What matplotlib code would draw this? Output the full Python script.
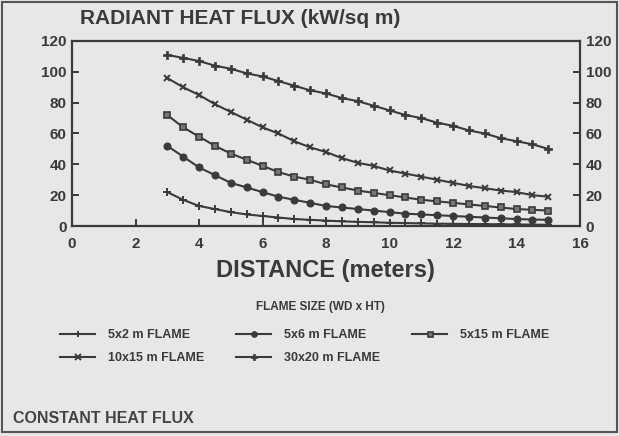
import matplotlib
matplotlib.use('Agg')
import matplotlib.pyplot as plt
from matplotlib.lines import Line2D
from matplotlib.patches import Rectangle
import numpy as np

plt.rcParams['font.family'] = ['Liberation Sans', 'DejaVu Sans']
plt.rcParams['font.weight'] = 'bold'

# distance from flame (m), every half metre from 3 to 15
distance = [3, 3.5, 4, 4.5, 5, 5.5, 6, 6.5, 7, 7.5, 8, 8.5, 9, 9.5,
            10, 10.5, 11, 11.5, 12, 12.5, 13, 13.5, 14, 14.5, 15]

flux_5x2 = [22, 17, 13, 11, 9, 7.5, 6.5, 5.5, 4.5, 4, 3.5, 3, 2.7, 2.4,
            2.1, 1.9, 1.7, 1.5, 1.4, 1.3, 1.2, 1.1, 1.0, 0.9, 0.8]
flux_5x6 = [52, 45, 38, 33, 28, 25, 22, 19, 17, 15, 13, 12, 11, 10,
            9, 8, 7.5, 7, 6.5, 6, 5.5, 5, 4.5, 4.2, 4]
flux_5x15 = [72, 64, 58, 52, 47, 43, 39, 35, 32, 30, 27, 25, 23, 21.5,
             20, 18.5, 17, 16, 15, 14, 13, 12, 11, 10.5, 10]
flux_10x15 = [96, 90, 85, 79, 74, 69, 64, 60, 55, 51, 48, 44, 41, 39,
              36, 34, 32, 30, 28, 26, 24.5, 23, 22, 20, 19]
flux_30x20 = [111, 109, 107, 104, 102, 99, 97, 94, 91, 88, 86, 83, 81, 78,
              75, 72, 70, 67, 65, 62, 60, 57, 55, 53, 50]

labels = ['5x2 m FLAME', '5x6 m FLAME', '5x15 m FLAME',
          '10x15 m FLAME', '30x20 m FLAME']

ink = '#3a3a3a'
bg = '#e7e7e5'

fig = plt.figure(figsize=(6.19, 4.36), dpi=100, facecolor=bg)
ax = fig.add_axes([72 / 619, 1 - 226 / 436, (580 - 72) / 619, (226 - 41) / 436])
ax.set_facecolor(bg)

styles = [
    dict(marker='+', ms=6, mew=1.4),
    dict(marker='o', ms=5, mfc=ink, mew=0.8),
    dict(marker='s', ms=4.5, mfc='#777777', mew=1.2),
    dict(marker='x', ms=5, mew=1.4),
    dict(marker='P', ms=5.5, mfc=ink, mew=0.5),
]
series = [flux_5x2, flux_5x6, flux_5x15, flux_10x15, flux_30x20]
for vals, st in zip(series, styles):
    ax.plot(distance, vals, color=ink, lw=1.5, mec=ink, **st)

ax.set_xlim(0, 16)
ax.set_ylim(0, 120)
ax.set_xticks(np.arange(0, 17, 2))
ax.set_yticks(np.arange(0, 121, 20))
ax.tick_params(direction='in', length=5, width=1.4, colors=ink,
               labelsize=11, pad=4, right=True, labelright=True)
ax.tick_params(axis='x', pad=8)
for lab in ax.get_xticklabels() + ax.get_yticklabels():
    lab.set_fontweight('bold')
for sp in ax.spines.values():
    sp.set_color(ink)
    sp.set_linewidth(1.6)

fig.text(80 / 619, 1 - 19 / 436, 'RADIANT HEAT FLUX (kW/sq m)', fontsize=15,
         fontweight='bold', color=ink, va='center', ha='left')
fig.text(325 / 619, 1 - 270 / 436, 'DISTANCE (meters)', fontsize=17,
         fontweight='bold', color=ink, va='center', ha='center')
fig.text(13 / 619, 1 - 418 / 436, 'CONSTANT HEAT FLUX', fontsize=11.5,
         fontweight='bold', color='#444444', va='center', ha='left')
fig.text(320 / 619, 1 - 307 / 436, 'FLAME SIZE (WD x HT)', fontsize=8.5,
         fontweight='bold', color=ink, va='center', ha='center')

# legend fills column by column, reorder so rows read like the original
order = [0, 3, 1, 4, 2]
handles = [Line2D([], [], color=ink, lw=1.5, mec=ink,
                  **dict(styles[i], ms=styles[i]['ms'] * 0.8)) for i in order]
leg = fig.legend(handles, [labels[i] for i in order], ncol=3, loc='upper left',
                 bbox_to_anchor=(60 / 619, 1 - 329 / 436),
                 frameon=False, prop={'size': 9, 'weight': 'bold'},
                 handlelength=2.8, columnspacing=2.6, handletextpad=1.0,
                 labelspacing=0.9, borderpad=0, borderaxespad=0)
for t in leg.get_texts():
    t.set_color(ink)

fig.patches.append(Rectangle((2 / 619, 4 / 436), 615 / 619, 430 / 436,
                             transform=fig.transFigure, fill=False,
                             edgecolor='#555555', lw=1.5))

fig.savefig('out.png', dpi=100, facecolor=bg)
